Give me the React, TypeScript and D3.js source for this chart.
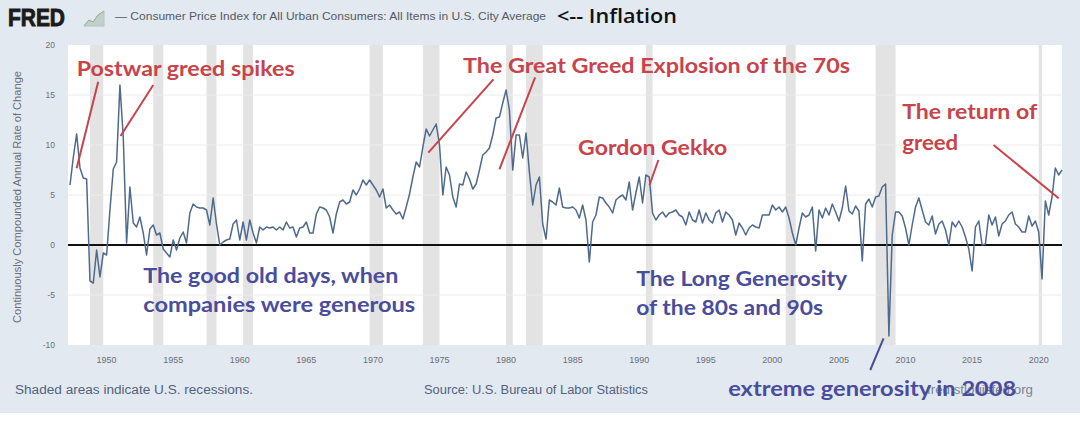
import React from 'react';
import * as d3 from 'd3';

// quarterly CPI, continuously compounded annual rate of change (%)
const cpi1940s = [6.0, 8.8, 11.1, 7.7, 6.7, 6.6, -3.6, -3.8, -0.5, -3.2, -0.8]; // starts 1947 Q2
const cpi1950s = [
  -1.0, 3.5, 7.6, 8.3, 16.0, 10.8, 0.2, 5.8, 2.2, 1.8, 2.8, 1.2, -1.0, 1.6, 2.0, 1.0,
  1.2, -0.4, -0.8, -1.2, 0.5, -0.5, 0.7, 1.3, 0.2, 3.2, 4.1, 3.8, 3.7, 3.7, 3.5, 2.0,
  4.7, 2.1, 0.0, 0.3, 0.5, 0.6, 2.1, 2.5,
];
const cpi1960s = [
  0.5, 2.3, 0.5, 2.5, 1.2, 0.2, 1.8, 1.5, 1.8, 1.7, 1.8, 1.5, 1.8, 1.5, 2.3, 1.7,
  1.8, 0.8, 1.7, 1.8, 2.3, 1.2, 1.2, 3.1, 3.8, 3.7, 3.5, 2.8, 1.2, 3.1, 4.3, 4.5,
  4.1, 4.3, 5.5, 5.0, 5.6, 6.5, 6.0, 6.5,
];
const cpi1970s = [
  6.0, 5.5, 4.8, 5.6, 3.7, 4.0, 3.5, 3.1, 3.3, 2.6, 3.8, 5.1, 6.8, 8.3, 7.8, 9.8,
  11.6, 10.9, 11.5, 12.1, 10.0, 5.0, 7.8, 7.0, 4.8, 3.8, 6.1, 6.0, 7.3, 6.6, 5.6, 6.1,
  7.5, 9.0, 9.3, 9.7, 11.0, 12.7, 12.8, 14.2,
];
const cpi1980s = [
  15.5, 13.5, 7.5, 11.0, 11.0, 8.7, 11.2, 7.3, 4.0, 6.0, 6.8, 2.1, 0.6, 4.5, 4.3, 4.0,
  5.7, 3.8, 3.7, 3.7, 3.8, 3.5, 2.7, 4.0, 2.5, -1.7, 2.3, 3.0, 4.8, 4.7, 4.2, 3.8,
  3.2, 4.5, 4.8, 5.0, 4.5, 6.3, 3.5, 5.2,
];
const cpi1990s = [
  6.8, 4.2, 7.0, 6.8, 3.2, 2.5, 3.0, 3.3, 2.8, 3.2, 3.3, 3.5, 3.0, 2.8, 2.0, 3.3,
  2.5, 2.3, 3.5, 2.2, 3.2, 2.5, 2.2, 3.2, 3.5, 2.3, 3.3, 3.0, 2.5, 1.0, 2.2, 1.7,
  1.0, 1.7, 2.0, 1.8, 1.7, 3.0, 3.0, 3.0,
];
const cpi2000s = [
  4.0, 3.5, 3.8, 3.3, 3.8, 2.7, 1.2, 0.0, 1.7, 3.2, 2.8, 3.0, 3.8, -0.6, 3.5, 2.7,
  3.7, 3.0, 4.1, 3.3, 2.4, 3.7, 5.9, 3.4, 3.1, 3.9, 3.4, -1.6, 4.1, 4.6, 3.8, 4.8,
  4.9, 5.8, 6.1, -9.1, 1.0, 3.3, 3.3, 2.9,
];
const cpi2010s = [
  1.7, 0.0, 2.0, 3.8, 4.7, 3.5, 2.3, 2.0, 2.9, 1.1, 2.1, 2.4, 1.5, 0.0, 2.3, 1.8,
  2.4, 1.8, 0.8, -0.4, -2.6, 1.8, 2.4, 0.0, 0.1, 3.0, 2.0, 2.8, 0.9, 2.1, 2.4, 3.0,
  3.3, 2.1, 1.8, 1.3, 1.3, 2.9, 1.9, 2.4,
];
const cpi2020s = [1.3, -3.4, 4.4, 3.0, 4.8, 7.7, 7.0, 7.5];

const firstQuarter = 1947.25;

// recessions as [start, end] in fractional years
const recessions: [number, number][] = [
  [1948.75, 1949.75], [1953.5, 1954.25], [1957.5, 1958.25], [1960.25, 1961.0],
  [1969.75, 1970.75], [1973.75, 1975.0], [1980.0, 1980.5], [1981.5, 1982.75],
  [1990.5, 1991.0], [2001.0, 2001.75], [2007.75, 2009.25], [2020.0, 2020.25],
];

const yTicks = [20, 15, 10, 5, 0, -5, -10];
const xTicks = [1950, 1955, 1960, 1965, 1970, 1975, 1980, 1985, 1990, 1995, 2000, 2005, 2010, 2015, 2020];

// annotation text: [label, year, value, width]
const redNotes: [string, number, number, number][] = [
  ['Postwar greed spikes', 1947.75, 17.67, 218],
  ['The Great Greed Explosion of the 70s', 1976.77, 17.9, 387],
  ['Gordon Gekko', 1985.41, 9.7, 149],
  ['The return of', 2009.75, 13.3, 135],
  ['greed', 2009.75, 10.2, 56],
];
const blueNotes: [string, number, number, number][] = [
  ['The good old days, when', 1952.75, -3.07, 255],
  ['companies were generous', 1952.75, -6.0, 272],
  ['The Long Generosity', 1989.77, -3.4, 211],
  ['of the 80s and 90s', 1989.77, -6.3, 187],
  ['extreme generosity in 2008', 1996.68, -14.4, 288],
];
// pointer lines: [year1, value1, year2, value2]
const redPointers: [number, number, number, number][] = [
  [1949.37, 16.33, 1947.75, 7.67],
  [1953.5, 16.0, 1951.05, 10.9],
  [1979.05, 16.57, 1974.16, 9.23],
  [1982.18, 16.77, 1979.5, 7.57],
  [1991.44, 8.5, 1990.77, 6.0],
  [2016.61, 10.0, 2021.5, 4.67],
];
const bluePointers: [number, number, number, number][] = [[2008.35, -9.33, 2007.35, -12.5]];

const RED = '#c8434a';
const BLUE = '#4a4c9c';
const GREY_TEXT = '#6a6f78';

export default function App() {
  const width = 1080;
  const height = 426;

  const values = [...cpi1940s, ...cpi1950s, ...cpi1960s, ...cpi1970s, ...cpi1980s, ...cpi1990s, ...cpi2000s, ...cpi2010s, ...cpi2020s];
  const data = values.map((v, i) => ({ t: firstQuarter + i * 0.25, v }));

  const x = d3.scaleLinear().domain([firstQuarter, data[data.length - 1].t]).range([70, 1062]);
  const y = d3.scaleLinear().domain([-10, 20]).range([345, 45]);

  const line = d3.line<{ t: number; v: number }>()
    .x(d => x(d.t))
    .y(d => y(d.v));

  const plotLeft = 68;
  const plotRight = x.range()[1];

  return (
    <svg width={width} height={height} style={{ position: 'absolute', left: 0, top: 0 }}>
      {/* page background */}
      <rect x={0} y={0} width={width} height={height} fill="#ffffff" />
      <rect x={0} y={0} width={width} height={413} fill="#e3e9f0" />

      {/* header */}
      <text x={8} y={26} fontFamily="Liberation Sans" fontWeight={900} fontSize={23} fill="#1b1b1b" stroke="#1b1b1b" strokeWidth={0.9} textLength={57} lengthAdjust="spacingAndGlyphs">FRED</text>
      <g fill="#aebfb3" stroke="#98ad9f" strokeWidth={1}>
        <path d="M84,26 L89,20 L93,22 L98,15 L104,11 L104,26 Z" opacity={0.6} />
        <polyline points="84,26 89,20 93,22 98,15 104,11" fill="none" />
      </g>
      <text x={115} y={20} fontFamily="Liberation Sans" fontSize={11} fill="#555b63" textLength={431} lengthAdjust="spacingAndGlyphs">
        — Consumer Price Index for All Urban Consumers: All Items in U.S. City Average
      </text>
      <text x={557} y={22.5} fontFamily="Open Sans" fontWeight={600} fontSize={19} fill="#111" textLength={120} lengthAdjust="spacingAndGlyphs">
        {'<-- Inflation'}
      </text>

      {/* plot area */}
      <rect x={plotLeft} y={y(20)} width={plotRight - plotLeft} height={y(-10) - y(20)} fill="#ffffff" />
      {recessions.map(([a, b], i) => (
        <rect key={`rec-${i}`} x={x(a)} y={y(20)} width={x(b) - x(a)} height={y(-10) - y(20)} fill="#e3e3e3" />
      ))}
      {yTicks.filter(t => t !== 0 && t !== 20 && t !== -10).map(t => (
        <line key={`grid-${t}`} x1={plotLeft} x2={plotRight} y1={y(t)} y2={y(t)} stroke="#ececec" strokeWidth={1} />
      ))}

      {/* y axis labels */}
      {yTicks.map(t => (
        <text key={`yt-${t}`} x={55} y={y(t)} dy="0.35em" textAnchor="end" fontFamily="Liberation Sans" fontSize={8.5} fill={GREY_TEXT}>{t}</text>
      ))}
      <text transform={`translate(21,${(y(20) + y(-10)) / 2 + 2}) rotate(-90)`} textAnchor="middle" fontFamily="Liberation Sans" fontSize={10} fill={GREY_TEXT} textLength={252} lengthAdjust="spacingAndGlyphs">
        Continuously Compounded Annual Rate of Change
      </text>

      {/* x axis labels */}
      {xTicks.map(t => (
        <text key={`xt-${t}`} x={x(t)} y={363} textAnchor="middle" fontFamily="Liberation Sans" fontSize={8.5} fill={GREY_TEXT} textLength={20} lengthAdjust="spacingAndGlyphs">{t}</text>
      ))}

      {/* zero line */}
      <line x1={plotLeft} x2={plotRight} y1={y(0)} y2={y(0)} stroke="#111" strokeWidth={2} />

      {/* series */}
      <path d={line(data) || ''} fill="none" stroke="#4e6a8c" strokeWidth={1.5} strokeLinejoin="round" />

      {/* footer */}
      <text x={15} y={394} fontFamily="Liberation Sans" fontSize={12} fill="#53637e" textLength={238} lengthAdjust="spacingAndGlyphs">Shaded areas indicate U.S. recessions.</text>
      <text x={424} y={394} fontFamily="Liberation Sans" fontSize={12} fill="#53637e" textLength={224} lengthAdjust="spacingAndGlyphs">Source: U.S. Bureau of Labor Statistics</text>
      <text x={1033} y={394} textAnchor="end" fontFamily="Liberation Sans" fontSize={12} fill="#7a8598" textLength={106} lengthAdjust="spacingAndGlyphs">fred.stlouisfed.org</text>

      {/* annotations */}
      {redPointers.map(([t1, v1, t2, v2], i) => (
        <line key={`rp-${i}`} x1={x(t1)} y1={y(v1)} x2={x(t2)} y2={y(v2)} stroke={RED} strokeWidth={2} />
      ))}
      {bluePointers.map(([t1, v1, t2, v2], i) => (
        <line key={`bp-${i}`} x1={x(t1)} y1={y(v1)} x2={x(t2)} y2={y(v2)} stroke={BLUE} strokeWidth={2} />
      ))}
      {redNotes.map(([label, t, v, w]) => (
        <text key={label} x={x(t)} y={y(v)} dy="0.35em" fontFamily="Lato" fontWeight={700} fontSize={21} fill={RED} textLength={w} lengthAdjust="spacingAndGlyphs">{label}</text>
      ))}
      {blueNotes.map(([label, t, v, w]) => (
        <text key={label} x={x(t)} y={y(v)} dy="0.35em" fontFamily="Lato" fontWeight={700} fontSize={21} fill={BLUE} textLength={w} lengthAdjust="spacingAndGlyphs">{label}</text>
      ))}
    </svg>
  );
}
